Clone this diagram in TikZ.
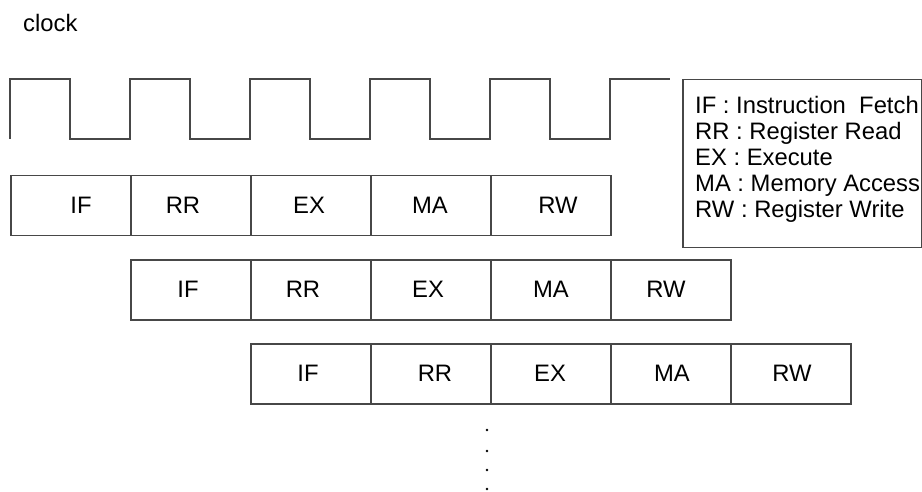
\documentclass[tikz,border=0pt]{standalone}
\usepackage{fontspec}
\setmainfont{Liberation Sans}
\begin{document}
\begin{tikzpicture}[x=1pt,y=-1pt,
  line/.style={draw=black!72, line width=1.5pt},
  cell/.style={line, rectangle, minimum width=120pt, minimum height=60pt, inner sep=0pt, anchor=north west},
  lbl/.style={font=\fontsize{23.8}{26}\selectfont, inner sep=0pt},
  dotmark/.style={circle, fill=black, inner sep=0pt, minimum size=2.6pt}]
\useasboundingbox (0,0) rectangle (922,492);
\node[lbl, anchor=base west] (clk) at (23,32) {clock};
% clock waveform
\draw[line, line join=miter] (10,139) -- (10,79) -- (70,79) -- (70,139) -- (130,139) -- (130,79) -- (190,79) -- (190,139)
  -- (250,139) -- (250,79) -- (310,79) -- (310,139) -- (370,139) -- (370,79) -- (430,79) -- (430,139)
  -- (490,139) -- (490,79) -- (550,79) -- (550,139) -- (610,139) -- (610,79) -- (670,79);
% legend
\node[line, rectangle, anchor=north west, minimum width=239pt, minimum height=168pt, inner sep=0pt] (legend) at (682,79) {};
\node[lbl, anchor=base west] (l1) at (695,114) {IF : Instruction\ \ Fetch};
\node[lbl, anchor=base west] (l2) at (695,140) {RR : Register Read};
\node[lbl, anchor=base west] (l3) at (695,166) {EX : Execute};
\node[lbl, anchor=base west] (l4) at (695,192) {MA : Memory Access};
\node[lbl, anchor=base west] (l5) at (695,218) {RW : Register Write};
% row 1
\node[cell] (a1) at (10,175) {};
\node[cell] (a2) at (130,175) {};
\node[cell] (a3) at (250,175) {};
\node[cell] (a4) at (370,175) {};
\node[cell] (a5) at (490,175) {};
\node[lbl] (ta1) at (81,205) {IF};
\node[lbl] (ta2) at (183,205) {RR};
\node[lbl] (ta3) at (309,205) {EX};
\node[lbl] (ta4) at (430,205) {MA};
\node[lbl] (ta5) at (558,205) {RW};
% row 2
\node[cell] (b1) at (130,259) {};
\node[cell] (b2) at (250,259) {};
\node[cell] (b3) at (370,259) {};
\node[cell] (b4) at (490,259) {};
\node[cell] (b5) at (610,259) {};
\node[lbl] (tb1) at (188,289) {IF};
\node[lbl] (tb2) at (303,289) {RR};
\node[lbl] (tb3) at (428,289) {EX};
\node[lbl] (tb4) at (551,289) {MA};
\node[lbl] (tb5) at (666,289) {RW};
% row 3
\node[cell] (c1) at (250,343) {};
\node[cell] (c2) at (370,343) {};
\node[cell] (c3) at (490,343) {};
\node[cell] (c4) at (610,343) {};
\node[cell] (c5) at (730,343) {};
\node[lbl] (tc1) at (308,373) {IF};
\node[lbl] (tc2) at (435,373) {RR};
\node[lbl] (tc3) at (550,373) {EX};
\node[lbl] (tc4) at (672,373) {MA};
\node[lbl] (tc5) at (792,373) {RW};
% dots
\node[dotmark] (d1) at (487,430) {};
\node[dotmark] (d2) at (487,451) {};
\node[dotmark] (d3) at (487,470) {};
\node[dotmark] (d4) at (487,489) {};
\end{tikzpicture}
\end{document}
